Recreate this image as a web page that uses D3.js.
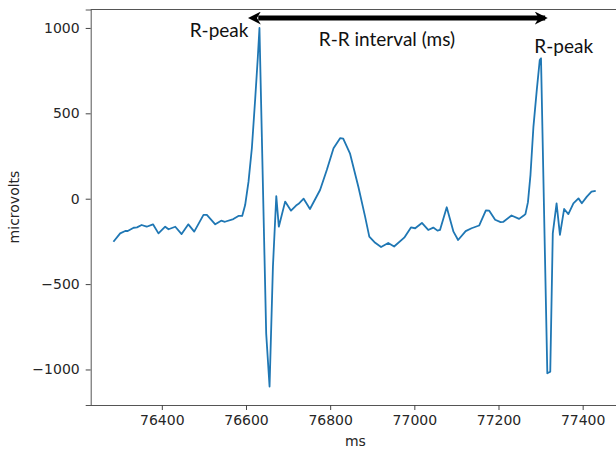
<!DOCTYPE html>
<html>
<head>
  <meta content="text/html;charset=utf-8" http-equiv="Content-Type">
  <title>ECG R-R interval</title>
  <style type="text/css">
    body { margin: 0; background: #fff; }
    #ecg text { font-family: "DejaVu Sans", sans-serif; fill: #262626; }
    #ecg .tick line { stroke: #444; }
    #ecg .domain { stroke: #555; }
    #ecg .note { font-family: Lato, "Open Sans", sans-serif; font-size: 19px; fill: #111; }
  </style>
  <script src="https://cdnjs.cloudflare.com/ajax/libs/d3/7.6.1/d3.min.js"></script>
  <script>

    // time (ms) and signal (microvolts)
    var ms = [76285, 76301, 76313, 76319, 76333, 76341, 76352, 76364, 76379, 76392,
              76408, 76416, 76432, 76447, 76463, 76477, 76499, 76507, 76527, 76541,
              76550, 76570, 76582, 76591, 76598, 76606, 76614, 76622, 76628, 76632,
              76648, 76656, 76664, 76672, 76678, 76693, 76707, 76719, 76725, 76737,
              76752, 76776, 76792, 76808, 76824, 76831, 76847, 76867, 76883, 76893,
              76907, 76921, 76938, 76952, 76976, 76992, 77002, 77018, 77033, 77045,
              77055, 77061, 77077, 77093, 77104, 77122, 77136, 77154, 77170, 77178,
              77192, 77205, 77211, 77231, 77249, 77260, 77264, 77270, 77276, 77283,
              77291, 77298, 77301, 77316, 77323, 77329, 77338, 77346, 77356, 77366,
              77378, 77390, 77398, 77410, 77421, 77431];
    var microvolts = [-252, -203, -189, -189, -170, -168, -154, -164, -150, -203,
              -164, -179, -164, -207, -150, -193, -95, -95, -150, -129,
              -135, -119, -101, -101, -37, 100, 297, 590, 824, 1000,
              -790, -1100, -398, 15, -164, -17, -70, -40, -30, 0,
              -60, 51, 168, 295, 355, 352, 266, 70, -105, -222,
              -258, -283, -259, -280, -228, -168, -173, -142, -183, -169,
              -187, -183, -50, -193, -242, -190, -173, -157, -68, -70,
              -123, -137, -136, -98, -118, -98, -90, -20, 140, 421,
              637, 812, 822, -1022, -1013, -203, -27, -212, -60, -90,
              -27, 2, -27, 12, 41, 46];

    var xTicks = [76400, 76600, 76800, 77000, 77200, 77400];
    var yTicks = [-1000, -500, 0, 500, 1000];

    // annotations: R-R arrow between the two peaks, labels
    var arrowMs = [76622, 77318];
    var arrowUv = 1058;
    var noteText = ['R-peak', 'R-R interval (ms)', 'R-peak'];
    var noteMs = [76536, 76935, 77355];
    var noteUv = [988, 935, 890];

    function main() {
      var svg = d3.select('#ecg').attr('width', 616).attr('height', 451);

      var x = d3.scaleLinear().domain([76231, 77488]).range([90.7, 619.7]);
      var y = d3.scaleLinear().domain([-1208, 1108]).range([405, 9.5]);

      var defs = svg.append('defs');
      ['head', 'tail'].forEach(function(id) {
        defs.append('marker')
          .attr('id', id)
          .attr('viewBox', '0 0 10 10')
          .attr('refX', id == 'head' ? 8 : 2).attr('refY', 5)
          .attr('markerWidth', 2.6).attr('markerHeight', 2.6)
          .attr('orient', 'auto-start-reverse')
          .append('path').attr('d', 'M0,0L10,5L0,10L3,5Z').attr('fill', '#000');
      });

      // axes frame (top spine visible, right one is cut off by the crop)
      var xAxis = d3.axisBottom(x).tickValues(xTicks).tickSize(5).tickPadding(5).tickFormat(d3.format('d'));
      var yAxis = d3.axisLeft(y).tickValues(yTicks).tickSize(5).tickPadding(6)
                    .tickFormat(function(d) { return d < 0 ? '\u2212' + (-d) : d; });

      svg.append('g').attr('transform', 'translate(0,405)').call(xAxis)
        .call(function(g) { g.selectAll('text').attr('font-size', 14).attr('font-family', null); })
        .call(function(g) { g.select('.domain').attr('d', 'M90.7,0.5H616'); });
      svg.append('g').attr('transform', 'translate(90.7,0)').call(yAxis)
        .call(function(g) { g.selectAll('text').attr('font-size', 14).attr('font-family', null); });
      svg.append('line').attr('x1', 90.7).attr('x2', 616).attr('y1', 9.5).attr('y2', 9.5)
        .attr('stroke', '#555');

      svg.append('text').attr('x', x(76860)).attr('y', 446).attr('text-anchor', 'middle')
        .attr('font-size', 14).text('ms');
      svg.append('text').attr('transform', 'translate(19,207) rotate(-90)')
        .attr('text-anchor', 'middle').attr('font-size', 14).text('microvolts');

      var pts = ms.map(function(d, i) { return [d, microvolts[i]]; });
      svg.append('path').datum(pts)
        .attr('fill', 'none').attr('stroke', '#1f77b4').attr('stroke-width', 1.8)
        .attr('stroke-linejoin', 'round')
        .attr('d', d3.line().x(function(d) { return x(d[0]); }).y(function(d) { return y(d[1]); }));

      svg.append('line')
        .attr('x1', x(arrowMs[0]) + 3).attr('x2', x(arrowMs[1]) - 3)
        .attr('y1', y(arrowUv)).attr('y2', y(arrowUv))
        .attr('stroke', '#000').attr('stroke-width', 5)
        .attr('marker-start', 'url(#tail)').attr('marker-end', 'url(#head)');

      svg.selectAll('text.note').data(noteText).enter().append('text')
        .attr('class', 'note')
        .attr('x', function(d, i) { return x(noteMs[i]); })
        .attr('y', function(d, i) { return y(noteUv[i]); })
        .attr('text-anchor', 'middle').attr('dy', '0.35em')
        .text(function(d) { return d; });
    }
  </script>
</head>
<body onload='main()'>
  <svg id="ecg"></svg>
</body>
</html>
